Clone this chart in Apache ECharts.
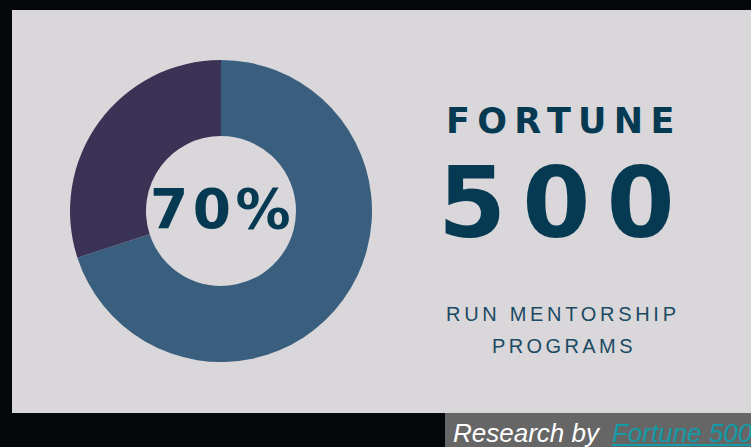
<!DOCTYPE html>
<html>
<head>
<meta charset="utf-8">
<script src="https://cdn.jsdelivr.net/npm/echarts@6/dist/echarts.min.js"></script>
<style>
  html, body { margin: 0; padding: 0; width: 751px; height: 447px; background: #04080b; overflow: hidden; }
  #chart { position: absolute; left: 12px; top: 10px; width: 739px; height: 403px; background: #d9d7da; }
  #footer { position: absolute; left: 445px; top: 413px; width: 306px; height: 34px; background: #666666;
            font-family: "Liberation Sans", Arial, sans-serif; font-style: italic; font-size: 26px; line-height: 40px;
            color: #ffffff; white-space: nowrap; overflow: hidden; padding-left: 8px; box-sizing: border-box; }
  #footer a { color: #119ba6; text-decoration: underline; margin-left: 13px; }
</style>
</head>
<body>
<div id="chart"></div>
<div id="footer">Research by<a href="#">Fortune 500</a></div>
<script>
// ---- data ----
const sliceNames = ['Run mentorship programs', 'Do not'];
const sliceValues = [70, 30];
const sliceColors = ['#3a5f7e', '#3b3356'];
const centerLabel = '70%';
const headline1 = 'FORTUNE';
const headline2 = '500';
const subline1 = 'RUN MENTORSHIP';
const subline2 = 'PROGRAMS';

const spacing = {};
spacing[centerLabel] = 4.5;
spacing[headline1] = 7.3;
spacing[headline2] = 16;
spacing[subline1] = 3.7;
spacing[subline2] = 3.4;

const dark = '#063a52';
const heavy = '"DejaVu Sans", sans-serif';
const light = '"Liberation Sans", Arial, sans-serif';

const chart = echarts.init(document.getElementById('chart'), null, { renderer: 'svg' });
chart.setOption({
  animation: false,
  backgroundColor: 'transparent',
  series: [{
    type: 'pie',
    silent: true,
    center: [209, 201],
    radius: [75, 151],
    startAngle: 90,
    clockwise: true,
    label: { show: false },
    labelLine: { show: false },
    itemStyle: { borderWidth: 0 },
    data: sliceNames.map((n, i) => ({ name: n, value: sliceValues[i], itemStyle: { color: sliceColors[i] } }))
  }],
  graphic: [
    { type: 'text', silent: true, left: 138, top: 171,
      style: { text: centerLabel, fill: dark, font: 'bold 55px ' + heavy } },
    { type: 'text', silent: true, left: 434, top: 93,
      style: { text: headline1, fill: dark, font: 'bold 35px ' + heavy, lineHeight: 28 } },
    { type: 'text', silent: true, left: 426, top: 144,
      style: { text: headline2, fill: dark, font: 'bold 98px ' + heavy, lineHeight: 76 } },
    { type: 'text', silent: true, left: 434, top: 294,
      style: { text: subline1, fill: '#1b4a63', font: '20px ' + light } },
    { type: 'text', silent: true, left: 480, top: 326,
      style: { text: subline2, fill: '#1b4a63', font: '20px ' + light } }
  ]
});

function applySpacing() {
  document.querySelectorAll('#chart text').forEach(t => {
    const s = spacing[t.textContent];
    if (s !== undefined) t.style.letterSpacing = s + 'px';
  });
}
applySpacing();
chart.on('finished', applySpacing);
setTimeout(applySpacing, 50);
</script>
</body>
</html>
